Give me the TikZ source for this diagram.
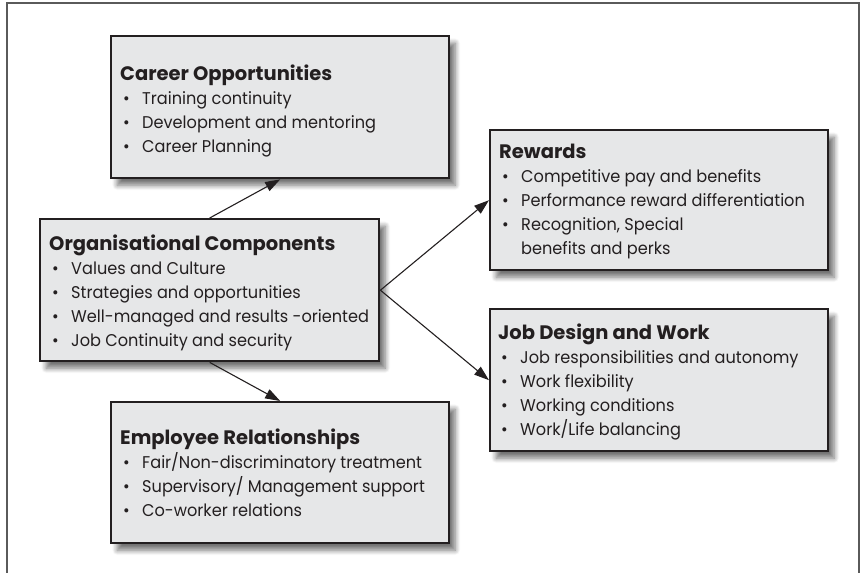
\documentclass[tikz,border=0pt]{standalone}
\usepackage{fontspec}
\setmainfont{Poppins}[FakeStretch=0.95]
\newfontfamily\headfont{Poppins}[FakeStretch=1.0]
\usetikzlibrary{arrows.meta,shadows.blur}

\definecolor{boxfill}{HTML}{E6E7E8}
\definecolor{boxline}{HTML}{231F20}
\definecolor{frameline}{HTML}{5A5A5A}

% box heading and bullet items (item text starts 22pt after the heading's left edge)
\newcommand\head[1]{{\headfont\bfseries\fontsize{19.5}{24}\selectfont #1}}
\newcommand\itm{\hspace*{3pt}\makebox[19pt][l]{\textbullet}}
\newcommand\cont{\hspace*{22pt}}

\tikzset{
  card/.style={draw=boxline, line width=2.4pt, fill=boxfill, anchor=north west,
    inner sep=0pt, blur shadow={shadow xshift=6pt, shadow yshift=-7pt,
    shadow blur steps=8, shadow blur radius=5pt, shadow opacity=55}},
  cardtext/.style={anchor=base west, align=left, inner sep=0pt, text=boxline,
    font=\fontsize{17}{24}\selectfont},
  link/.style={draw=boxline, line width=1.1pt, -{Triangle[length=15pt,width=10pt]}},
}

\begin{document}
\begin{tikzpicture}[x=1pt,y=1pt]
  \useasboundingbox (0,0) rectangle (860,-573);
  \draw[frameline, line width=1.4pt] (7,-580) -- (7,-3) -- (859,-3) -- (859,-580);

  % boxes
  \node[card, minimum width=338, minimum height=142] (career) at (110,-35) {};
  \node[card, minimum width=339, minimum height=142] (org) at (39,-218) {};
  \node[card, minimum width=338, minimum height=140] (rewards) at (489,-129) {};
  \node[card, minimum width=338, minimum height=142] (job) at (489,-308) {};
  \node[card, minimum width=338, minimum height=141] (employee) at (110,-401) {};

  % box texts, placed by the baseline of their last line
  \node[cardtext] (careertxt) at (120,-152) {\head{Career Opportunities}\\
    \itm Training continuity\\
    \itm Development and mentoring\\
    \itm Career Planning};
  \node[cardtext] (orgtxt) at (49,-346) {\head{Organisational Components}\\
    \itm Values and Culture\\
    \itm Strategies and opportunities\\
    \itm Well-managed and results -oriented\\
    \itm Job Continuity and security};
  \node[cardtext] (rewardstxt) at (499,-254) {\head{Rewards}\\
    \itm Competitive pay and benefits\\
    \itm Performance reward differentiation\\
    \itm Recognition, Special\\
    \cont benefits and perks};
  \node[cardtext] (jobtxt) at (498,-435) {\head{Job Design and Work}\\
    \itm Job responsibilities and autonomy\\
    \itm Work flexibility\\
    \itm Working conditions\\
    \itm Work/Life balancing};
  \node[cardtext] (employeetxt) at (120,-516) {\head{Employee Relationships}\\
    \itm Fair/Non-discriminatory treatment\\
    \itm Supervisory/ Management support\\
    \itm Co-worker relations};

  % links
  \draw[link] (org.north) -- (career.south);
  \draw[link] (org.south) -- (employee.north);
  \draw[link] (org.east) -- (rewards.west);
  \draw[link] (org.east) -- (job.west);
\end{tikzpicture}
\end{document}
